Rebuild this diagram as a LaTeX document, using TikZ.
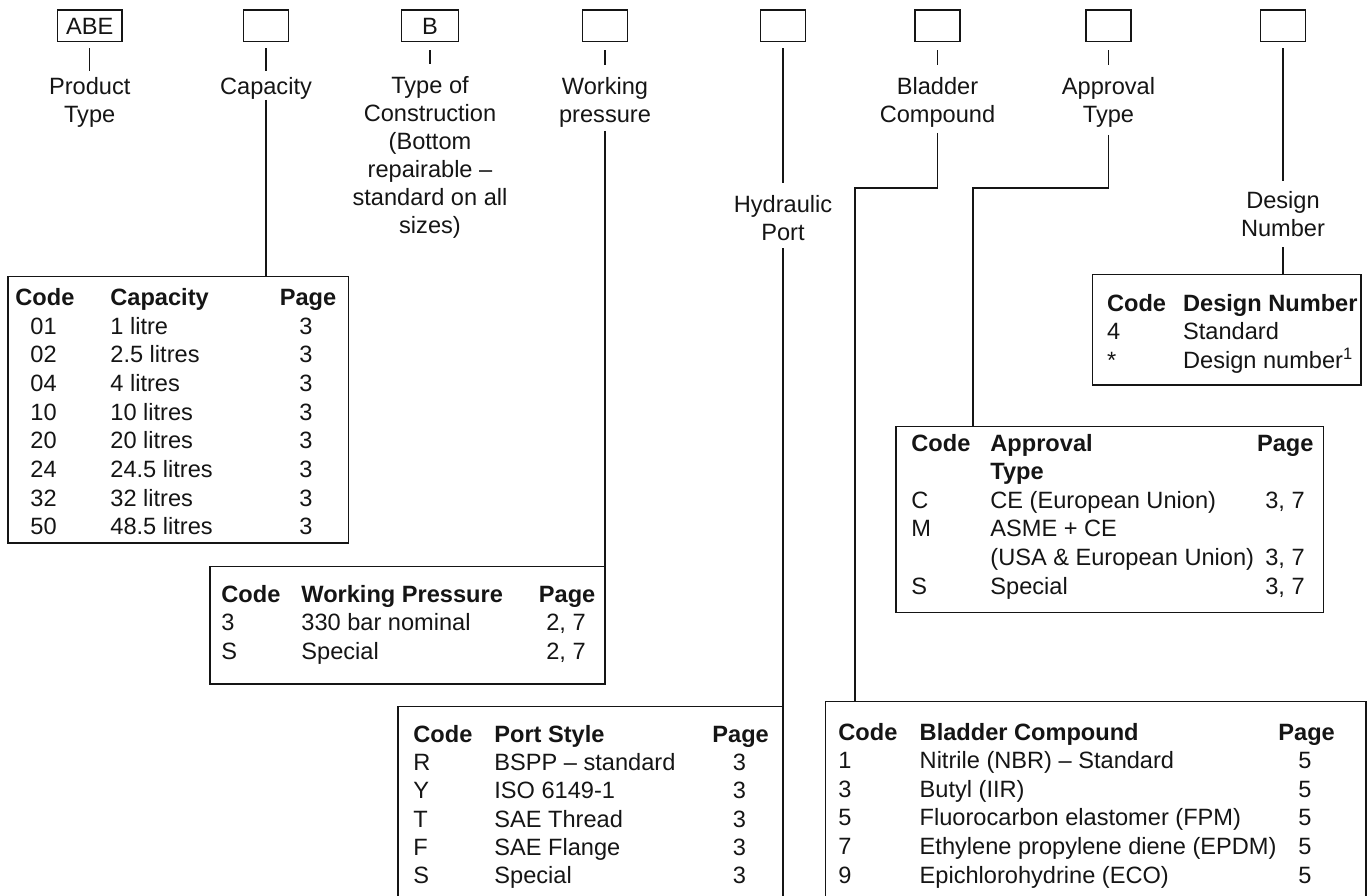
\documentclass[tikz,border=0pt]{standalone}
\usepackage{fontspec}
\setmainfont{Liberation Sans}
\usetikzlibrary{fit}
\definecolor{ocInk}{HTML}{151515}
\tikzset{
  topbox/.style ={draw=ocInk,line width=0.55pt,inner sep=0pt,minimum height=15.9pt,
                  minimum width=22.5pt,text=ocInk,font=\fontsize{11.8}{14}\selectfont},
  lbl/.style    ={inner sep=0pt,align=center,anchor=north,text=ocInk,
                  font=\fontsize{11.8}{14}\selectfont},
  tframe/.style ={draw=ocInk,line width=0.7pt,inner sep=0pt},
  cell/.style   ={inner sep=0pt,anchor=base west,text=ocInk,
                  font=\fontsize{11.8}{14.3}\selectfont},
  pcell/.style  ={cell,anchor=base},
  hcell/.style  ={cell,font=\fontsize{11.8}{14.3}\selectfont\bfseries},
  link/.style   ={draw=ocInk,line width=0.55pt},
  tick/.style   ={link,shorten <=3pt,shorten >=3pt},
  stub/.style   ={link,shorten <=4pt,shorten >=6pt},
}

\begin{document}
\begin{tikzpicture}[x=0.5pt,y=-0.5pt]
\useasboundingbox (0,0) rectangle (1370,895);
\clip (0,0) rectangle (1370,895);

%% code boxes
\node[topbox,minimum width=32.3pt] (bProd) at (89.7,25.9) {ABE};
\node[topbox] (bCap) at (266,25.9) {};
\node[topbox,minimum width=28.5pt] (bCon) at (430,25.9) {B};
\node[topbox] (bWork) at (605,25.9) {};
\node[topbox] (bPort) at (783,25.9) {};
\node[topbox] (bBlad) at (937.5,25.9) {};
\node[topbox] (bAppr) at (1108.5,25.9) {};
\node[topbox] (bDes) at (1283,25.9) {};

%% captions
\node[lbl] (lProd) at (89.7,77) {Product\\Type};
\node[lbl] (lCap) at (266,77) {Capacity};
\node[lbl] (lCon) at (430,76) {Type of\\Construction\\(Bottom\\repairable --\\standard on all\\sizes)};
\node[lbl] (lWork) at (605,77) {Working\\pressure};
\node[lbl] (lPort) at (783,195) {Hydraulic\\Port};
\node[lbl] (lBlad) at (937.5,77) {Bladder\\Compound};
\node[lbl] (lAppr) at (1108.5,77) {Approval\\Type};
\node[lbl] (lDes) at (1283,191) {Design\\Number};

\draw[tick] (bProd) -- (lProd);
\draw[tick] (bCap) -- (lCap);
\draw[stub] (bCon) -- (lCon);
\draw[stub] (bWork) -- (lWork);
\draw[stub] (bBlad) -- (lBlad);
\draw[stub] (bAppr) -- (lAppr);
\draw[link,shorten <=3pt,shorten >=6pt] (bPort) -- (lPort);
\draw[link,shorten <=3pt,shorten >=5pt] (bDes) -- (lDes);

%% table frames
\node[tframe,fit={(8,276.7) (348.6,543)}] (capT) {};
\node[tframe,fit={(209.9,566.7) (605,684)}] (wpT) {};
\node[tframe,fit={(397.8,706.7) (783,905)}] (psT) {};
\node[tframe,fit={(825.4,701.7) (1366,905)}] (bcT) {};
\node[tframe,fit={(896,426.7) (1323.3,612.7)}] (apT) {};
\node[tframe,fit={(1092.3,274.3) (1361,385)}] (dnT) {};

%% leaders down to the tables
\draw[link] (lCap) -- (lCap.south |- capT.north);
\draw[link,shorten <=1.5pt] (lWork) -- (lWork.south |- wpT.north);
\draw[link,shorten <=3.5pt] (lPort) -- (lPort.south |- psT.north);
\coordinate (bcBend) at (855,188);
\draw[link,shorten <=2.5pt] (lBlad.south) |- (bcBend) -- (bcBend |- bcT.north);
\coordinate (apBend) at (973,188);
\draw[link,shorten <=3.5pt] (lAppr.south) |- (apBend) -- (apBend |- apT.north);
\draw[link,shorten <=5pt] (lDes) -- (lDes.south |- dnT.north);

%% capacity
\node[hcell] (capH1) at (15,305) {Code};
\node[hcell] (capH2) at (110,305) {Capacity};
\node[hcell] (capH3) at (279.4,305) {Page};
\foreach \i/\c/\v in {0/01/1 litre,1/02/2.5 litres,2/04/4 litres,3/10/10 litres,
  4/20/20 litres,5/24/24.5 litres,6/32/32 litres,7/50/48.5 litres}{
  \node[cell] (capC\i) at (30,{334+\i*28.7}) {\c};
  \node[cell] (capV\i) at (110,{334+\i*28.7}) {\v};
  \node[pcell] (capP\i) at (306,{334+\i*28.7}) {3};
}

%% working pressure
\node[hcell] (wpH1) at (221,602) {Code};
\node[hcell] (wpH2) at (301,602) {Working Pressure};
\node[hcell] (wpH3) at (538.5,602) {Page};
\foreach \i/\c/\v in {0/3/330 bar nominal,1/S/Special}{
  \node[cell] (wpC\i) at (221,{630.5+\i*28.5}) {\c};
  \node[cell] (wpV\i) at (301,{630.5+\i*28.5}) {\v};
  \node[pcell] (wpP\i) at (566,{630.5+\i*28.5}) {2, 7};
}

%% port style
\node[hcell] (psH1) at (413,742) {Code};
\node[hcell] (psH2) at (494,742) {Port Style};
\node[hcell] (psH3) at (712,742) {Page};
\foreach \i/\c/\v in {0/R/BSPP -- standard,1/Y/ISO 6149-1,2/T/SAE Thread,3/F/SAE Flange,4/S/Special}{
  \node[cell] (psC\i) at (413,{770.5+\i*28.25}) {\c};
  \node[cell] (psV\i) at (494,{770.5+\i*28.25}) {\v};
  \node[pcell] (psP\i) at (739.5,{770.5+\i*28.25}) {3};
}

%% bladder compound
\node[hcell] (bcH1) at (838,740) {Code};
\node[hcell] (bcH2) at (919.3,740) {Bladder Compound};
\node[hcell] (bcH3) at (1278,740) {Page};
\foreach \i/\c/\v in {0/1/Nitrile (NBR) -- Standard,1/3/Butyl (IIR),2/5/Fluorocarbon elastomer (FPM),
  3/7/Ethylene propylene diene (EPDM),4/9/Epichlorohydrine (ECO)}{
  \node[cell] (bcC\i) at (838,{768.5+\i*28.7}) {\c};
  \node[cell] (bcV\i) at (919.3,{768.5+\i*28.7}) {\v};
  \node[pcell] (bcP\i) at (1305,{768.5+\i*28.7}) {5};
}

%% approval type
\node[hcell] (apH1) at (911,451) {Code};
\node[hcell] (apH2) at (990,451) {Approval};
\node[hcell] (apH3) at (1256.7,451) {Page};
\node[hcell] (apH4) at (990,479.6) {Type};
\foreach \i/\c/\v/\p in {0/C/CE (European Union)/{3, 7},1/M/ASME + CE/{},
  2/{}/(USA \& European Union)/{3, 7},3/S/Special/{3, 7}}{
  \node[cell] (apC\i) at (911,{508.2+\i*28.6}) {\c};
  \node[cell] (apV\i) at (990,{508.2+\i*28.6}) {\v};
  \node[pcell] (apP\i) at (1285,{508.2+\i*28.6}) {\p};
}

%% design number
\node[hcell] (dnH1) at (1106.7,311) {Code};
\node[hcell] (dnH2) at (1182.7,311) {Design Number};
\node[cell] (dnC0) at (1106.7,339.5) {4};
\node[cell] (dnV0) at (1182.7,339.5) {Standard};
\node[cell] (dnC1) at (1106.7,368) {*};
\node[cell] (dnV1) at (1182.7,368) {Design number\textsuperscript{1}};
\end{tikzpicture}
\end{document}
